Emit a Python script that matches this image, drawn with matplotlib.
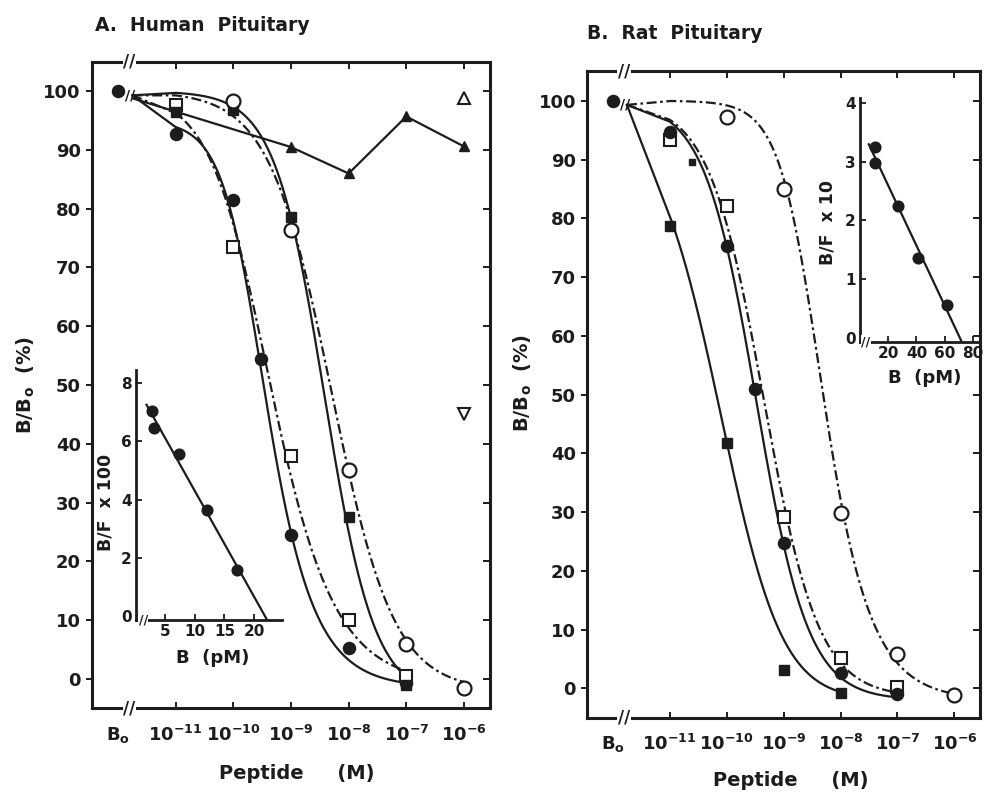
import numpy as np
import matplotlib
matplotlib.use('Agg')
import matplotlib.pyplot as plt
from matplotlib.transforms import blended_transform_factory

plt.rcParams['font.family'] = 'DejaVu Sans'
plt.rcParams['font.weight'] = 'bold'
plt.rcParams['mathtext.fontset'] = 'custom'
plt.rcParams['mathtext.rm'] = 'DejaVu Sans:bold'
plt.rcParams['mathtext.it'] = 'DejaVu Sans:bold'
plt.rcParams['mathtext.bf'] = 'DejaVu Sans:bold'
plt.rcParams['mathtext.default'] = 'rm'

INK = '#1c1c1c'

# x runs in log10[M]; the B0 (no peptide) column sits one decade below 1e-11
B0 = -12
CURVE_START = -11.75   # curves leave the axis break here ...
START_Y = 99.3         # ... at this B/B0
FIT_FROM = -11
decades = [-11, -10, -9, -8, -7, -6]
x_tick_labels = ['B$_\\mathrm{o}$', '$10^{-11}$', '$10^{-10}$', '$10^{-9}$',
                 '$10^{-8}$', '$10^{-7}$', '$10^{-6}$']
y_ticks = list(range(0, 101, 10))

# ---- A. Human pituitary ----
a_fcirc_x = [B0, -11, -10, -9.52, -9, -8, -7]
a_fcirc_y = [100, 92.8, 81.5, 54.5, 24.5, 5.2, -0.8]
a_osq_x = [-11, -10, -9, -8, -7]
a_osq_y = [97.6, 73.5, 38.0, 10.0, 0.5]
a_fsq_x = [-11, -10, -9, -8, -7]
a_fsq_y = [96.5, 96.8, 78.6, 27.5, -1.0]
a_ocirc_x = [-10, -9, -8, -7, -6]
a_ocirc_y = [98.4, 76.3, 35.6, 6.0, -1.5]
a_tri_x = [CURVE_START, -9, -8, -7, -6]
a_tri_y = [98.8, 90.5, 86.0, 95.7, 90.6]
a_otri_x, a_otri_y = [-6], [98.8]
a_vtri_x, a_vtri_y = [-6], [45.0]

# ---- B. Rat pituitary ----
b_fsq_x = [-11, -10, -9, -8]
b_fsq_y = [78.7, 41.7, 3.1, -0.8]
b_fcirc_x = [B0, -11, -10, -9.5, -9, -8, -7]
b_fcirc_y = [100, 94.7, 75.2, 51.0, 24.7, 2.6, -1.0]
b_osq_x = [-11, -10, -9, -8, -7]
b_osq_y = [93.3, 82.1, 29.2, 5.1, 0.2]
b_ocirc_x = [-10, -9, -8, -7, -6]
b_ocirc_y = [97.3, 85.0, 29.8, 5.8, -1.2]
b_dot_x, b_dot_y = [-10.6], [89.5]

# displacement curve parameters: (midpoint, slope, floor, asymmetry, top)
a_fcirc_fit = (-9.68, 1.3, -1.5, 0.6, 95.0)
a_osq_fit = (-9.6, 0.9, -1.0, 0.7, 100.0)
a_fsq_fit = (-8.42, 1.0, -3.5, 1.0, 100.0)
a_ocirc_fit = (-8.3, 0.8, -2.0, 1.0, 100.0)
b_fsq_fit = (-9.88, 0.7, -2.0, 1.4, 100.0)
b_fcirc_fit = (-9.48, 0.95, -2.0, 1.0, 100.0)
b_osq_fit = (-9.35, 0.9, -1.5, 1.0, 100.0)
b_ocirc_fit = (-8.55, 1.3, -2.0, 0.6, 100.0)

# Scatchard insets
ins_a_b = [2.7, 3.0, 7.3, 12.0, 17.1]
ins_a_bf = [7.05, 6.47, 5.57, 3.65, 1.57]
ins_b_b = [10.5, 10.5, 27.0, 41.3, 61.5]
ins_b_bf = [3.25, 2.97, 2.24, 1.35, 0.56]


def displacement(x, fit):
    mid, slope, floor, skew, top = fit
    u = 10.0 ** (slope * (x - mid))
    return floor + (top - floor) / (1.0 + u) ** skew


fcirc = dict(marker='o', ms=8.5, mfc=INK, mec=INK, mew=1.2)
ocirc = dict(marker='o', ms=10, mfc='white', mec=INK, mew=1.6)
osq = dict(marker='s', ms=8, mfc='white', mec=INK, mew=1.5)
fsq = dict(marker='s', ms=6.5, mfc=INK, mec=INK, mew=1.0)
tri = dict(marker='^', ms=6.5, mfc=INK, mec=INK, mew=1.0)
SOLID = '-'
DASHDOT = (0, (4.5, 1.6, 1.2, 1.6))


def spine_break(ax, x, fs=12):
    tr = blended_transform_factory(ax.transData, ax.transAxes)
    for yy in (0, 1):
        ax.text(x, yy, '//', transform=tr, ha='center', va='center', fontsize=fs,
                color=INK, clip_on=False, zorder=10,
                bbox=dict(boxstyle='square,pad=0.05', fc='white', ec='none'))


def main_panel(ax, series):
    for xs, ys, fit, ls, mk in series:
        # fitted curve from 1e-11 on, joined back to the break point
        cx = np.linspace(FIT_FROM, xs[-1], 300)
        cy = displacement(cx, fit)
        ax.plot(np.r_[CURVE_START, cx], np.r_[START_Y, cy], color=INK, lw=1.6,
                ls=ls, zorder=2)
        ax.plot(xs, ys, ls='none', zorder=3, **mk)
    ax.text(CURVE_START - 0.04, START_Y, '//', ha='center', va='center', fontsize=10,
            color=INK, zorder=4)
    ax.set_xlim(-12.45, -5.55)
    ax.set_ylim(-5, 105)
    ax.set_xticks([B0] + decades)
    ax.set_xticklabels(x_tick_labels)
    ax.set_yticks(y_ticks)
    ax.tick_params(axis='x', direction='in', length=4, width=1.4, pad=12,
                   labelsize=13, colors=INK)
    ax.xaxis.get_major_ticks()[0].tick1line.set_visible(False)
    ax.tick_params(axis='y', direction='out', length=4, width=1.4, pad=4,
                   labelsize=13, colors=INK)
    for sp in ax.spines.values():
        sp.set_linewidth(2.2)
        sp.set_color(INK)
    top = ax.secondary_xaxis('top')
    top.set_xticks(decades)
    top.set_xticklabels([])
    top.tick_params(direction='in', length=5, width=1.4, colors=INK)
    top.spines['top'].set_visible(False)
    right = ax.secondary_yaxis('right')
    right.set_yticks(y_ticks)
    right.set_yticklabels([])
    right.tick_params(direction='in', length=5, width=1.4, colors=INK)
    right.spines['right'].set_visible(False)
    spine_break(ax, -11.8)


def inset(fig, rect, bs, bfs, x0, xlim, ylim, xticks, yticks):
    ax = fig.add_axes(rect)
    ax.patch.set_visible(False)
    slope, icpt = np.polyfit(bs, bfs, 1)
    x1 = (ylim[0] + 0.02 - icpt) / slope
    ax.plot([x0, x1], [icpt + slope * x0, icpt + slope * x1], color=INK, lw=1.6)
    ax.plot(bs, bfs, ls='none', **dict(fcirc, ms=7.5))
    ax.set_xlim(*xlim)
    ax.set_ylim(*ylim)
    ax.set_xticks(xticks)
    ax.set_yticks(yticks)
    ax.spines['top'].set_visible(False)
    ax.spines['right'].set_visible(False)
    for s in ('left', 'bottom'):
        ax.spines[s].set_linewidth(2.0)
        ax.spines[s].set_color(INK)
    ax.tick_params(direction='in', length=4, width=1.3, labelsize=11, pad=3,
                   colors=INK)
    tr = blended_transform_factory(ax.transAxes, ax.transData)
    ax.text(0.05, ylim[0], '//', transform=tr, ha='center', va='center',
            fontsize=9, color=INK, clip_on=False,
            bbox=dict(boxstyle='square,pad=0.02', fc='white', ec='none'))
    return ax


fig = plt.figure(figsize=(9.85, 7.93), dpi=100)
fig.patch.set_facecolor('white')

ax_a = fig.add_axes([0.0934, 0.107, 0.404, 0.815])
main_panel(ax_a, [
    (a_fcirc_x, a_fcirc_y, a_fcirc_fit, SOLID, fcirc),
    (a_osq_x, a_osq_y, a_osq_fit, DASHDOT, osq),
    (a_fsq_x, a_fsq_y, a_fsq_fit, SOLID, fsq),
    (a_ocirc_x, a_ocirc_y, a_ocirc_fit, DASHDOT, ocirc),
])
ax_a.plot(a_tri_x, a_tri_y, color=INK, lw=1.6, zorder=2)
ax_a.plot(a_tri_x[1:], a_tri_y[1:], ls='none', zorder=3, **tri)
ax_a.plot(a_otri_x, a_otri_y, ls='none', marker='^', ms=9, mfc='white', mec=INK, mew=1.5)
ax_a.plot(a_vtri_x, a_vtri_y, ls='none', marker='v', ms=9, mfc='white', mec=INK, mew=1.5)

ax_b = fig.add_axes([0.596, 0.095, 0.399, 0.815])
main_panel(ax_b, [
    (b_fsq_x, b_fsq_y, b_fsq_fit, SOLID, fsq),
    (b_osq_x, b_osq_y, b_osq_fit, DASHDOT, osq),
    (b_fcirc_x, b_fcirc_y, b_fcirc_fit, SOLID, fcirc),
    (b_ocirc_x, b_ocirc_y, b_ocirc_fit, DASHDOT, ocirc),
])
ax_b.plot(b_dot_x, b_dot_y, ls='none', marker='s', ms=4, mfc=INK, mec=INK)

inset(fig, [0.138, 0.218, 0.148, 0.315], ins_a_b, ins_a_bf, 1.8,
      (0, 24.7), (-0.15, 8.45), [5, 10, 15, 20], [0, 2, 4, 6, 8])
inset(fig, [0.873, 0.569, 0.122, 0.307], ins_b_b, ins_b_bf, 6.3,
      (0, 85), (-0.07, 4.08), [20, 40, 60, 80], [0, 1, 2, 3, 4])

# panel titles and axis labels
fig.text(0.096, 0.968, 'A.  Human  Pituitary', fontsize=13.5, va='center', color=INK)
fig.text(0.596, 0.958, 'B.  Rat  Pituitary', fontsize=13.5, va='center', color=INK)
fig.text(0.026, 0.515, 'B/B$_\\mathrm{o}$  (%)', rotation=90, fontsize=14,
         ha='center', va='center', color=INK)
fig.text(0.531, 0.517, 'B/B$_\\mathrm{o}$  (%)', rotation=90, fontsize=14,
         ha='center', va='center', color=INK)
fig.text(0.301, 0.025, 'Peptide     (M)', fontsize=14, ha='center', va='center', color=INK)
fig.text(0.803, 0.016, 'Peptide     (M)', fontsize=14, ha='center', va='center', color=INK)
fig.text(0.107, 0.366, 'B/F  x 100', rotation=90, fontsize=12.5, ha='center',
         va='center', color=INK)
fig.text(0.216, 0.170, 'B  (pM)', fontsize=13, ha='center', va='center', color=INK)
fig.text(0.840, 0.719, 'B/F  x 10', rotation=90, fontsize=12.5, ha='center',
         va='center', color=INK)
fig.text(0.939, 0.523, 'B  (pM)', fontsize=13, ha='center', va='center', color=INK)

fig.savefig('out.png', dpi=100, facecolor='white')
